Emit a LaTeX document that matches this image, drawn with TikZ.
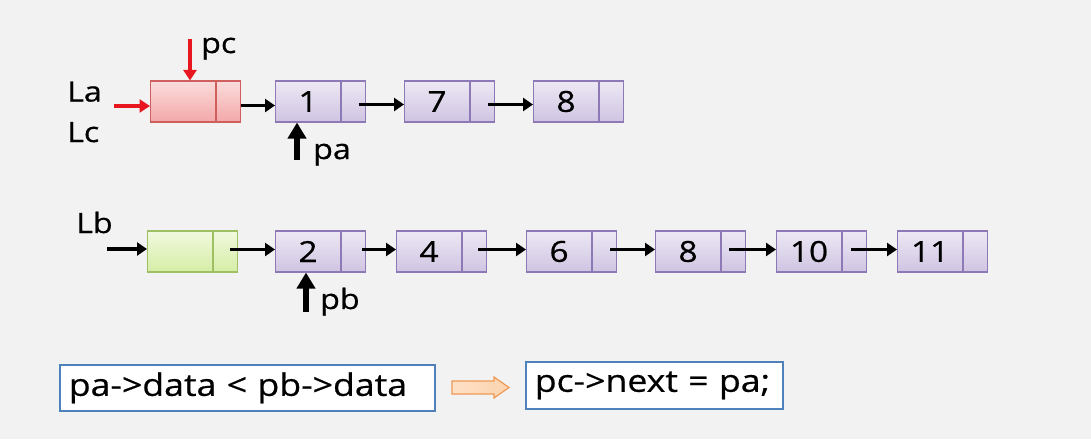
\documentclass[tikz,border=0pt]{standalone}
\usepackage{fontspec}
\setmainfont{Open Sans}
\newfontfamily\widefont[FakeStretch=1.15,FakeBold=0.6]{Open Sans}
\usetikzlibrary{arrows.meta}

\definecolor{bgcol}{HTML}{F2F2F2}
\definecolor{lavtop}{HTML}{EDE8F4}
\definecolor{lavbot}{HTML}{CFC4E2}
\definecolor{lavline}{HTML}{8D79B5}
\definecolor{redtop}{HTML}{FBDCDC}
\definecolor{redbot}{HTML}{F3A8A8}
\definecolor{redline}{HTML}{CF5F5D}
\definecolor{greentop}{HTML}{F1F9DE}
\definecolor{greenbot}{HTML}{D5EDA6}
\definecolor{greenline}{HTML}{9FC062}
\definecolor{boxline}{HTML}{4F81BD}
\definecolor{orangefill}{HTML}{FCD3AE}
\definecolor{orangeline}{HTML}{EE9A55}
\definecolor{ptrred}{HTML}{E8161E}

\tikzset{
  cell/.style={line width=1.1pt, minimum height=41pt, inner sep=0pt, anchor=west,
    font=\widefont\fontsize{29}{32}\selectfont},
  datacell/.style={cell, minimum width=65pt},
  ptrcell/.style={cell, minimum width=24pt},
  lavcell/.style={draw=lavline, top color=lavtop, bottom color=lavbot},
  redcell/.style={draw=redline, top color=redtop, bottom color=redbot},
  greencell/.style={draw=greenline, top color=greentop, bottom color=greenbot},
  lbl/.style={anchor=base west, inner sep=0pt, font=\widefont\fontsize{28}{30}\selectfont},
  link/.style={line width=3.4pt, -{Triangle[length=10pt,width=13pt]}},
  redlink/.style={draw=ptrred, line width=3.6pt, -{Triangle[length=10.5pt,width=13pt]}},
  ptrarrow/.style={line width=6.5pt, -{Triangle[length=16pt,width=18pt]}},
  codebox/.style={draw=boxline, fill=white, line width=1.6pt, anchor=north west,
    inner xsep=9pt, inner ysep=0pt, align=left,
    font=\widefont\fontsize{31}{34}\selectfont},
}

\begin{document}
\begin{tikzpicture}[x=1pt,y=-1pt]
\fill[bgcol] (0,0) rectangle (1091,439);
\useasboundingbox (0,0) rectangle (1091,439);

% ---- list La / Lc ----
\node[datacell,redcell] (h) at (150,101.5) {};
\node[ptrcell,redcell] (hp) at (h.east) {};
\node[datacell,lavcell] (a1) at (275,101.5) {1};
\node[ptrcell,lavcell] (a1p) at (a1.east) {};
\node[datacell,lavcell] (a7) at (404,101.5) {7};
\node[ptrcell,lavcell] (a7p) at (a7.east) {};
\node[datacell,lavcell] (a8) at (533,101.5) {8};
\node[ptrcell,lavcell] (a8p) at (a8.east) {};

\draw[link] ([yshift=-4pt]hp.east) -- ([yshift=-4pt]a1.west);
\draw[link] ([xshift=5pt,yshift=-3pt]a1p.center) -- ([yshift=-3pt]a7.west);
\draw[link] ([xshift=5pt,yshift=-3pt]a7p.center) -- ([yshift=-3pt]a8.west);

\node[lbl] (La) at (67,101.5) {La};
\node[lbl] (Lc) at (67,142) {Lc};
\coordinate (laIn) at (114,106);
\draw[redlink] (laIn) -- (laIn -| h.west);

\node[lbl] (pc) at (201,53) {pc};
\coordinate (pcTail) at (190,39);
\draw[redlink] (pcTail) -- (pcTail |- h.north);

\node[lbl] (pa) at (313,159) {pa};
\coordinate (paTail) at (297,160);
\draw[ptrarrow] (paTail) -- (paTail |- a1.south);

% ---- list Lb ----
\node[datacell,greencell] (g) at (147,251.5) {};
\node[ptrcell,greencell] (gp) at (g.east) {};
\node[datacell,lavcell] (b2) at (275,251.5) {2};
\node[ptrcell,lavcell] (b2p) at (b2.east) {};
\node[datacell,lavcell] (b4) at (396,251.5) {4};
\node[ptrcell,lavcell] (b4p) at (b4.east) {};
\node[datacell,lavcell] (b6) at (526,251.5) {6};
\node[ptrcell,lavcell] (b6p) at (b6.east) {};
\node[datacell,lavcell] (b8) at (655,251.5) {8};
\node[ptrcell,lavcell] (b8p) at (b8.east) {};
\node[datacell,lavcell] (b10) at (776,251.5) {10};
\node[ptrcell,lavcell] (b10p) at (b10.east) {};
\node[datacell,lavcell] (b11) at (897,251.5) {11};
\node[ptrcell,lavcell] (b11p) at (b11.east) {};

\draw[link] ([xshift=4pt,yshift=2pt]gp.center) -- ([yshift=2pt]b2.west);
\draw[link] ([xshift=-4pt,yshift=2pt]b2p.east) -- ([yshift=2pt]b4.west);
\draw[link] ([xshift=-9pt,yshift=2pt]b4p.east) -- ([yshift=2pt]b6.west);
\draw[link] ([xshift=-7pt,yshift=2pt]b6p.east) -- ([yshift=2pt]b8.west);
\draw[link] ([xshift=-17pt,yshift=2pt]b8p.east) -- ([yshift=2pt]b10.west);
\draw[link] ([xshift=-16pt,yshift=2pt]b10p.east) -- ([yshift=2pt]b11.west);

\node[lbl] (Lb) at (76,233) {Lb};
\coordinate (lbIn) at (107,249);
\draw[link] (lbIn) -- (lbIn -| g.west);

\node[lbl] (pb) at (320,309) {pb};
\coordinate (pbTail) at (306,312);
\draw[ptrarrow] (pbTail) -- (pbTail |- b2.south);

% ---- condition and action ----
\node[codebox, text width=357pt, minimum height=46pt] (cond) at (59,364) {pa->data < pb->data};
\node[codebox, text width=239pt, minimum height=47pt] (act) at (525,361) {pc->next = pa;};
\draw[orangeline, line width=1.2pt, left color=orangefill!70!white, right color=orangefill]
  (452,381) -- (494,381) -- (494,377) -- (509,387.5) -- (494,398) -- (494,394)
  -- (452,394) -- cycle;
\end{tikzpicture}
\end{document}
